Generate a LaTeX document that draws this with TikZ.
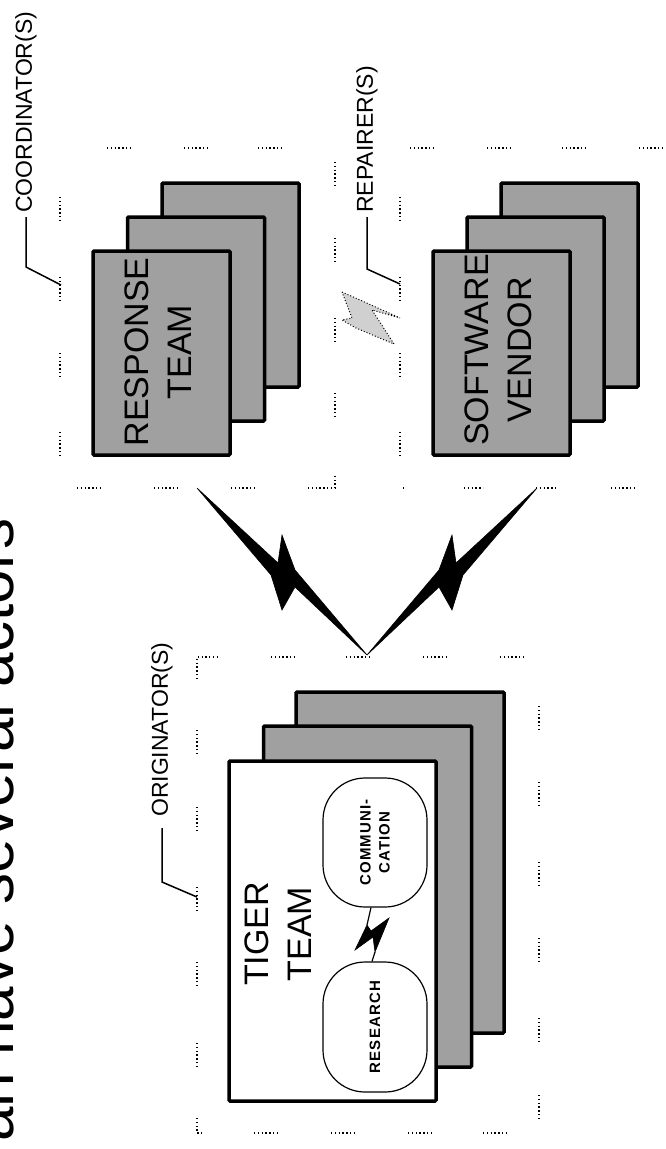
\documentclass[tikz,border=0pt]{standalone}
\usepackage{fontspec}
\setmainfont{Liberation Sans}
\newfontfamily\blobfont{Liberation Sans}[LetterSpace=8]
\definecolor{boxgray}{HTML}{A0A0A0}
\definecolor{faintgray}{HTML}{D0D0D0}
\begin{document}
\begin{tikzpicture}[x=1pt,y=-1pt,
  dots/.style={line width=1.4pt, dash pattern=on 1.3pt off 2.5pt, black},
  stackbox/.style={draw=black, line width=3.5pt, fill=boxgray, rounded corners=1pt, inner sep=0pt},
  frontbox/.style={stackbox, fill=white},
  bigtxt/.style={rotate=90, align=center, inner sep=0pt, font=\fontsize{34}{43}\selectfont},
  lbl/.style={rotate=90, anchor=west, inner sep=0pt, font=\fontsize{23}{23}\selectfont},
  leader/.style={line width=1.5pt, black},
  blob/.style={draw=black, line width=1.2pt, fill=white, rotate=90, rounded corners=42pt, inner sep=0pt, align=center, font=\blobfont\bfseries\fontsize{15}{19}\selectfont},
  bolt/.style={fill=black, draw=black, line width=0.6pt, line join=miter},
  thinline/.style={line width=1.2pt, black}
]
\useasboundingbox (0,0) rectangle (666,1149);
\clip (0,0) rectangle (666,1149);

% title (partly outside the picture)
\node[rotate=90, anchor=base east, inner sep=0pt, font=\fontsize{62}{62}\selectfont] (title) at (13,518) {an have several actors};

% ---------- dotted frames ----------
% upper frames
\foreach \a/\b in {107/130,184/207,258/282,410/434,487/511,562/585,639/662}
  \draw[dots] (\a,148) -- (\b,148);
\foreach \a/\b in {77/103,154/180,231/256,464/483,536/558,611/637}
  \draw[dots] (\a,488) -- (\b,488);
\draw[dots] (308,488) -- (335,488) -- (335,475);
\draw[dots] (403,488) -- (405,488);
\foreach \a/\b in {197/220,277/300,353/377,432/457} {
  \draw[dots] (60,\a) -- (60,\b);
  \draw[dots] (400,\a) -- (400,\b);
}
\foreach \a/\b in {162/185,238/262,318/342,393/417}
  \draw[dots] (335,\a) -- (335,\b);
% lower frame
\draw[dots] (218,657) -- (197,657) -- (197,678);
\foreach \a/\b in {271/295,346/370,423/447,500/523}
  \draw[dots] (\a,657) -- (\b,657);
\foreach \a/\b in {730/753,807/830,887/910,962/985,1043/1067}
  \draw[dots] (197,\a) -- (197,\b);
\draw[dots] (197,1118) -- (197,1133) -- (202,1133);
\foreach \a/\b in {254/280,331/355,408/432,483/509}
  \draw[dots] (\a,1133) -- (\b,1133);
\foreach \a/\b in {706/730,782/805,862/887,938/962,1018/1042,1095/1118}
  \draw[dots] (539,\a) -- (539,\b);

% ---------- labels with leaders ----------
\node[lbl] (coordlbl) at (26,213) {COORDINATOR(S)};
\coordinate (coordend) at (61,285);
\draw[leader] (coordlbl.west) ++(0,4) -- (26,267) -- (coordend);

\node[lbl] (replbl) at (367,213) {REPAIRER(S)};
\coordinate (repend) at (400,284);
\draw[leader] (replbl.west) ++(0,4) -- (367,269) -- (repend);

\node[lbl] (origlbl) at (162,817) {ORIGINATOR(S)};
\coordinate (origend) at (197,897);
\draw[leader] (origlbl.west) ++(0,11) -- (162,882) -- (origend);

% ---------- response team stack ----------
\node[stackbox, minimum width=137, minimum height=204] (rback) at (230.5,285) {};
\node[stackbox, minimum width=137, minimum height=204] (rmid) at (196,319) {};
\node[stackbox, minimum width=137, minimum height=204] (rfront) at (161.5,353) {};
\node[bigtxt] (resptxt) at (158,352) {RESPONSE\\TEAM};

% ---------- software vendor stack ----------
\node[stackbox, minimum width=137, minimum height=204] (sback) at (569.5,285) {};
\node[stackbox, minimum width=137, minimum height=204] (smid) at (535.5,319) {};
\node[stackbox, minimum width=137, minimum height=204] (sfront) at (501.5,353) {};
\node[bigtxt] (softtxt) at (498,350) {SOFTWARE\\VENDOR};

% ---------- faint link between coordinator and repairer ----------
\draw[dotted, line width=1pt, fill=faintgray] (342,292) -- (369,304) -- (400,318) -- (372,310) -- (394,344) -- (356,328) -- (342,320) -- (352,318) -- cycle;

% ---------- tiger team stack ----------
\node[stackbox, minimum width=208, minimum height=341] (tback) at (400,862.5) {};
\node[stackbox, minimum width=208, minimum height=341] (tmid) at (367.5,896.5) {};
\node[frontbox, minimum width=207, minimum height=340] (tfront) at (332.5,931) {};
\node[bigtxt] (tigertxt) at (278,934) {TIGER\\TEAM};

\node[blob, minimum width=129, minimum height=104] (comm) at (375,842.5) {COMMUNI-\\CATION};
\node[blob, minimum width=130, minimum height=104] (research) at (375,1027) {RESEARCH};

% link between the blobs
\coordinate (b1) at (367,925);
\coordinate (b2) at (375,952);
\draw[thinline] ([xshift=-4pt]comm.west) -- (b1);
\draw[bolt] (b1) -- (355,950) -- (373,937) -- (b2) -- (389,918) -- (371,931) -- cycle;
\draw[thinline] (b2) -- ([xshift=-3pt]research.east);

% ---------- big lightning links ----------
\coordinate (lt) at (197,488);
\coordinate (mt) at (367,655);
\coordinate (rt) at (537,488);
\draw[bolt] (lt) -- (278,563) -- (282,535) -- (295,570) -- (mt) -- (295,587) -- (282,610) -- (271,575) -- cycle;
\draw[bolt] (rt) -- (456,563) -- (452,535) -- (439,570) -- (mt) -- (439,587) -- (452,610) -- (463,575) -- cycle;
\end{tikzpicture}
\end{document}
